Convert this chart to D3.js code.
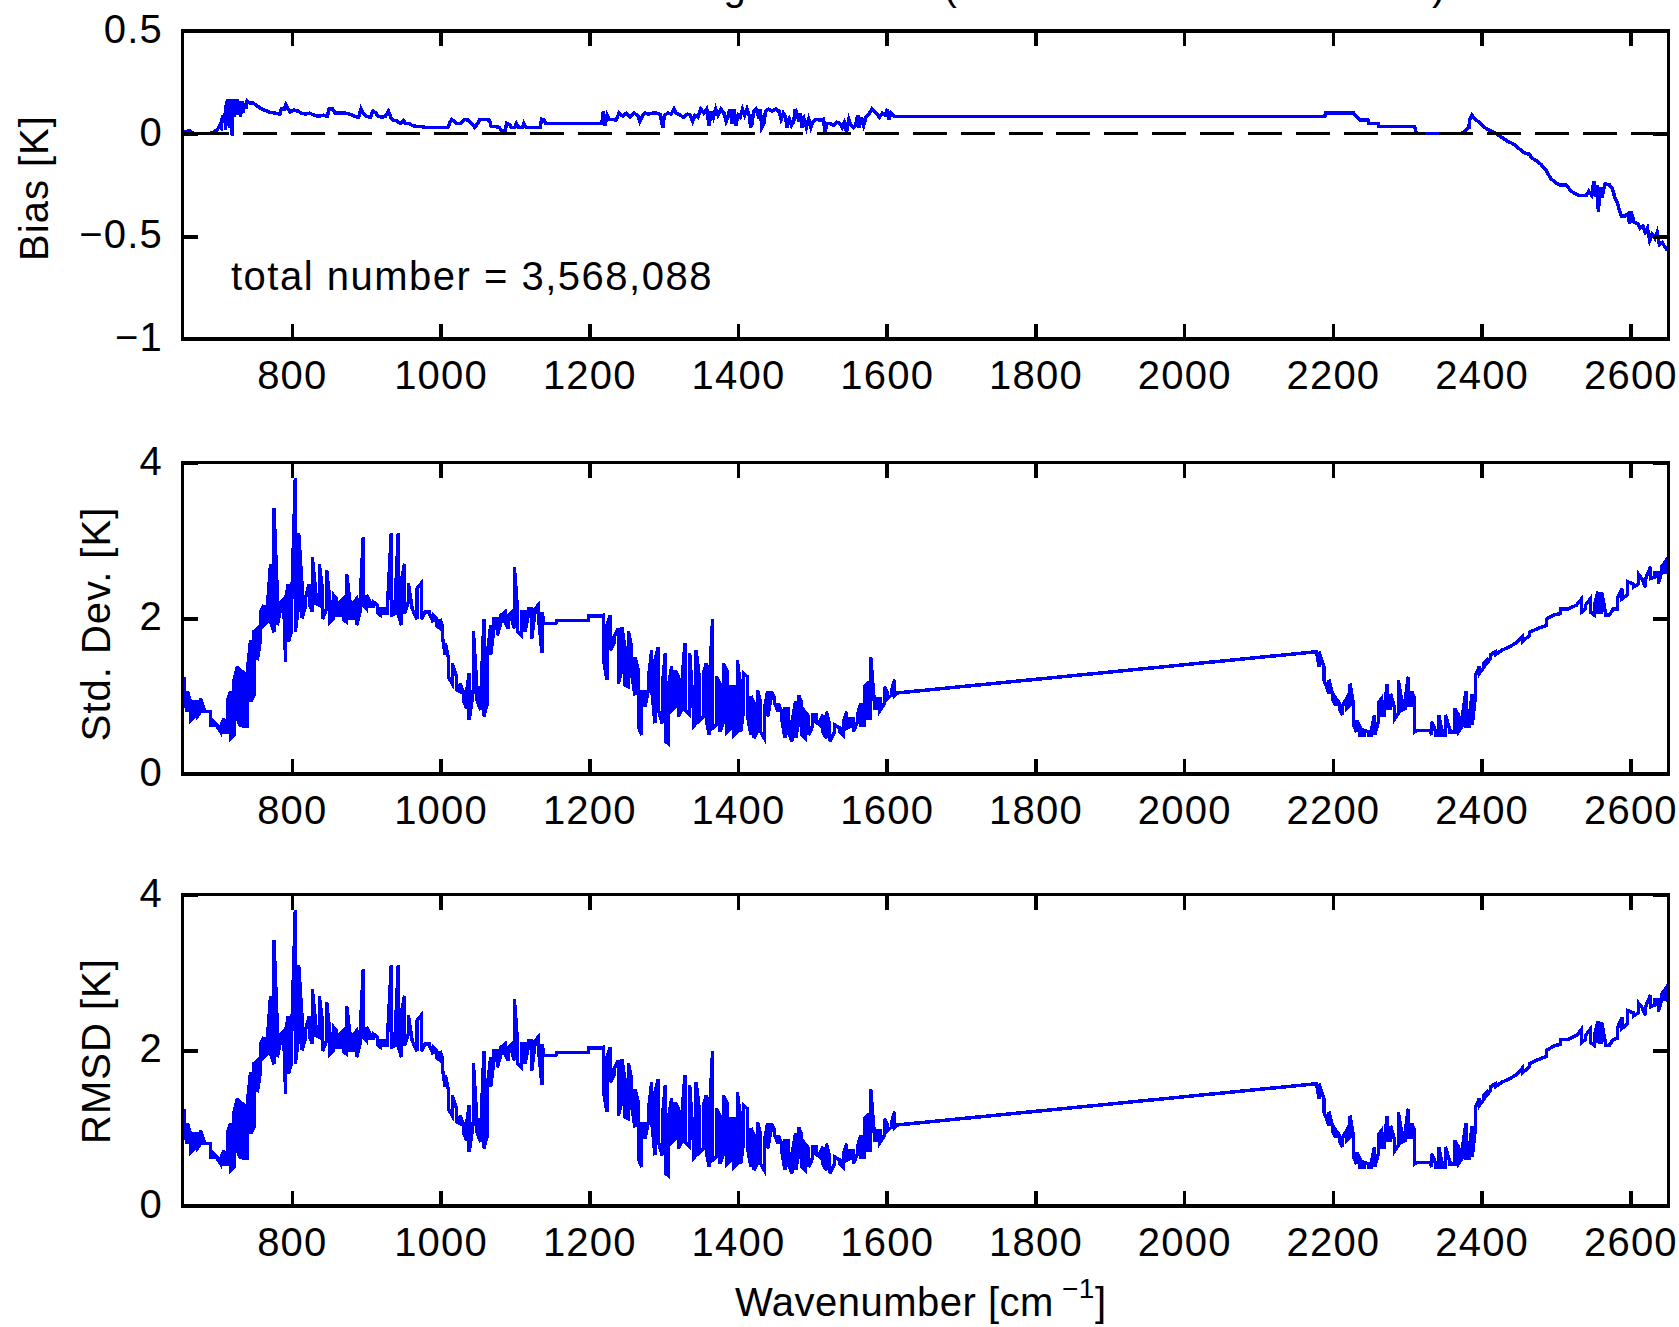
<!DOCTYPE html>
<html>
<head>
<meta charset="utf-8">
<script src="https://cdn.jsdelivr.net/npm/d3@7"></script>
<style>
html, body { margin: 0; padding: 0; background: #ffffff; }
svg { display: block; }
text { font-family: "Liberation Sans", Arial, Helvetica, sans-serif; fill: #000; }
</style>
</head>
<body>
<svg id="chart" width="1679" height="1327"></svg>
<script>
// ---------------- data ----------------
const titleText = "IASI Channel Averaged Biases (Observation \u2212 Calculated)";
const totalNumberLabel = "total number = 3,568,088";
const xLabelMain = "Wavenumber [cm";
const xLabelSup = "\u22121";
const xTicks = [800, 1000, 1200, 1400, 1600, 1800, 2000, 2200, 2400, 2600];
const xTickLabels = ["800", "1000", "1200", "1400", "1600", "1800", "2000", "2200", "2400", "2600"];
const biasTicks = [0.5, 0, -0.5, -1];
const biasTickLabels = ["0.5", "0", "\u22120.5", "\u22121"];
const sdTicks = [0, 2, 4];
const sdTickLabels = ["0", "2", "4"];
const panelTitles = ["Bias [K]", "Std. Dev. [K]", "RMSD [K]"];

// bias [wavenumber, K]
const biasSeries = [
[654,0.005],[662,0.015],[669,0.0],[690,0.0],[696,0.01],[700,0.02],[703,0.04],[705,0.03],[707,0.09],[709,0.06],
[710,0.10],[711,0.02],[712,0.16],[713,0.04],[714,0.17],[715,0.06],[716,0.16],[717,0.03],[718,0.17],[719,0.07],
[720,-0.01],[721,0.17],[722,0.08],[723,0.17],[724,0.09],[725,0.17],[726,0.09],[727,0.17],[728,0.10],[730,0.16],
[731,0.08],[733,0.16],[734,0.10],[736,0.15],[738,0.12],[740,0.16],[743,0.15],[747,0.15],[752,0.14],[757,0.125],
[763,0.115],[770,0.105],[777,0.10],[784,0.095],[786,0.12],[790,0.12],[792,0.14],[795,0.12],[798,0.105],[803,0.115],
[808,0.11],[813,0.10],[818,0.095],[824,0.10],[830,0.09],[836,0.085],[842,0.09],[848,0.085],[850,0.12],[855,0.12],
[858,0.10],[865,0.10],[872,0.10],[878,0.095],[884,0.085],[890,0.08],[893,0.12],[896,0.10],[900,0.085],[906,0.08],
[909,0.11],[913,0.10],[916,0.085],[921,0.08],[926,0.085],[930,0.11],[933,0.08],[936,0.065],[940,0.065],[943,0.055],
[947,0.05],[950,0.065],[953,0.05],[957,0.05],[962,0.04],[968,0.035],[974,0.035],[980,0.03],[988,0.03],[996,0.03],
[1004,0.03],[1010,0.03],[1012,0.05],[1015,0.07],[1018,0.06],[1022,0.05],[1027,0.05],[1032,0.07],[1038,0.065],[1042,0.05],
[1046,0.03],[1050,0.05],[1053,0.07],[1060,0.07],[1066,0.065],[1068,0.035],[1074,0.035],[1079,0.03],[1082,0.015],[1087,0.015],
[1089,0.05],[1093,0.045],[1095,0.03],[1100,0.03],[1102,0.05],[1105,0.03],[1110,0.03],[1112,0.05],[1115,0.03],[1122,0.03],
[1128,0.03],[1134,0.03],[1136,0.07],[1140,0.065],[1141,0.05],[1217,0.05],[1219,0.11],[1221,0.04],[1224,0.09],[1227,0.07],
[1232,0.07],[1236,0.065],[1240,0.10],[1245,0.085],[1250,0.10],[1255,0.08],[1260,0.10],[1265,0.09],[1268,0.06],[1272,0.09],
[1275,0.10],[1280,0.095],[1285,0.10],[1290,0.10],[1295,0.095],[1299,0.03],[1301,0.09],[1306,0.10],[1310,0.095],[1314,0.12],
[1317,0.10],[1322,0.09],[1327,0.08],[1332,0.095],[1336,0.09],[1339,0.06],[1342,0.09],[1346,0.08],[1350,0.12],[1354,0.10],
[1358,0.12],[1361,0.04],[1364,0.11],[1367,0.08],[1370,0.12],[1373,0.09],[1377,0.12],[1381,0.10],[1384,0.06],[1387,0.09],
[1389,0.12],[1392,0.05],[1395,0.12],[1397,0.04],[1400,0.09],[1403,0.08],[1406,0.12],[1409,0.09],[1412,0.12],[1415,0.09],
[1417,0.03],[1419,0.05],[1421,0.11],[1424,0.12],[1427,0.09],[1430,0.12],[1432,0.03],[1435,0.05],[1437,0.11],[1441,0.12],
[1446,0.11],[1451,0.12],[1455,0.11],[1458,0.07],[1461,0.10],[1464,0.08],[1466,0.03],[1469,0.07],[1472,0.04],[1475,0.06],
[1477,0.12],[1480,0.09],[1482,0.06],[1484,0.10],[1486,0.03],[1489,0.07],[1492,0.03],[1495,0.07],[1498,0.03],[1501,0.06],
[1505,0.07],[1510,0.065],[1515,0.07],[1517,0.01],[1520,0.05],[1524,0.05],[1528,0.04],[1533,0.055],[1537,0.05],[1540,0.03],
[1543,0.055],[1546,0.01],[1549,0.07],[1552,0.04],[1555,0.03],[1558,0.04],[1561,0.09],[1563,0.03],[1566,0.08],[1569,0.04],
[1572,0.08],[1575,0.09],[1580,0.12],[1583,0.11],[1586,0.10],[1590,0.08],[1594,0.10],[1598,0.09],[1601,0.12],[1603,0.07],
[1606,0.10],[1610,0.083],[2189,0.083],[2190,0.10],[2228,0.10],[2231,0.085],[2236,0.067],[2247,0.067],[2248,0.05],[2261,0.05],
[2262,0.034],[2310,0.034],[2312,0.0],[2373,0.0],[2378,0.015],[2383,0.03],[2384,0.07],[2387,0.09],[2390,0.075],[2395,0.06],
[2400,0.045],[2404,0.03],[2409,0.02],[2415,0.01],[2422,-0.006],[2428,-0.02],[2434,-0.035],[2440,-0.045],[2445,-0.055],[2449,-0.07],
[2453,-0.08],[2458,-0.095],[2464,-0.10],[2468,-0.12],[2473,-0.13],[2476,-0.14],[2480,-0.15],[2484,-0.17],[2487,-0.18],[2490,-0.20],
[2493,-0.22],[2497,-0.23],[2500,-0.24],[2505,-0.25],[2514,-0.25],[2520,-0.28],[2525,-0.29],[2530,-0.30],[2541,-0.30],[2544,-0.28],
[2548,-0.30],[2551,-0.23],[2553,-0.31],[2555,-0.25],[2557,-0.38],[2559,-0.26],[2562,-0.31],[2564,-0.27],[2566,-0.245],[2572,-0.25],
[2576,-0.27],[2579,-0.31],[2582,-0.33],[2585,-0.37],[2588,-0.40],[2593,-0.40],[2597,-0.39],[2599,-0.44],[2601,-0.38],[2605,-0.43],
[2610,-0.44],[2613,-0.46],[2617,-0.45],[2620,-0.48],[2623,-0.46],[2626,-0.52],[2629,-0.49],[2633,-0.51],[2636,-0.48],[2639,-0.54],
[2643,-0.53],[2646,-0.55],[2650,-0.57]
];

// standard deviation, one entry per picture column: [wavenumber, low K, high K]
const stdSeries = [
[655,0.95,1.25],[659.5,0.80,1.06],[664,0.69,0.93],[668.4,0.73,0.93],[672.9,0.74,0.93],[677.4,0.80,0.97],[681.9,0.80,0.84],[686.4,0.80,0.80],
[690.8,0.63,0.80],[695.3,0.63,0.67],[699.8,0.61,0.63],[704.3,0.54,0.61],[708.8,0.54,0.71],[713.2,0.54,0.93],[717.7,0.46,1.06],[722.2,0.50,1.20],
[726.7,0.71,1.38],[731.2,0.61,1.33],[735.7,0.61,1.30],[740.1,0.61,1.31],[744.6,0.93,1.72],[749.1,1.01,1.83],[753.6,1.46,1.87],[758.1,1.74,2.08],
[762.5,1.91,2.17],[767,1.95,2.12],[771.5,1.95,2.70],[776,1.82,3.41],[780.5,1.91,2.30],[785,2.13,2.20],[789.4,2.13,2.25],[791.7,1.44,2.25],
[795.3,1.70,2.44],[799.7,1.83,2.17],[804.7,1.83,3.80],[809.2,2.17,3.09],[813.6,2.00,2.44],[818.1,2.15,2.25],[823.5,2.19,2.44],[827.5,2.08,2.79],
[832.5,2.19,2.30],[836.9,2.17,2.70],[841.4,1.99,2.36],[846.8,2.12,2.62],[851.3,1.95,2.21],[855.8,1.99,2.30],[860.3,2.04,2.25],[864.7,2.04,2.21],
[869.2,1.99,2.25],[873.7,1.95,2.57],[878.2,2.00,2.21],[882.7,2.00,2.20],[887.1,1.91,2.25],[891.6,2.08,2.17],[896.1,2.17,3.04],[900.6,2.12,2.30],
[905.1,2.15,2.21],[909.6,2.15,2.21],[914.9,2.08,2.17],[919.4,2.04,2.12],[923.9,2.06,2.12],[928.4,2.06,2.12],[933.8,2.04,3.09],[938.7,2.06,2.15],
[943.2,2.06,3.09],[947.2,1.91,2.47],[951.7,2.06,2.70],[956.6,2.21,2.45],[962,2.12,2.12],[968.3,1.99,2.38],[974.1,1.99,2.45],[979,2.08,2.08],
[984.9,2.06,2.08],[990.2,1.95,2.04],[994.7,1.90,2.00],[999.2,1.87,1.99],[1002.8,1.74,1.89],[1006.4,1.53,1.68],[1010.4,1.25,1.50],[1015.8,1.16,1.42],
[1021.6,1.08,1.25],[1026.1,1.06,1.16],[1030.6,0.95,1.06],[1035.1,0.84,1.06],[1038.6,0.69,1.29],[1044.1,1.08,1.83],[1049,0.95,1.08],[1054,0.82,0.95],
[1058.4,0.74,1.99],[1062.9,0.91,1.53],[1067.4,1.53,1.91],[1071.9,1.87,1.99],[1076.4,1.78,1.99],[1081.3,1.95,2.04],[1086.7,1.95,2.08],[1091.2,1.87,2.04],
[1095.6,2.00,2.08],[1099.2,1.87,2.66],[1103.7,1.83,2.08],[1109.1,1.78,2.08],[1113.6,1.83,2.08],[1118.1,2.04,2.12],[1122.5,1.74,2.12],[1127,2.08,2.12],
[1131.5,2.04,2.17],[1136.4,1.55,2.08],[1139.1,1.93,1.93],[1154.8,1.93,1.93],[1156.2,1.97,1.97],[1198.7,1.97,1.97],[1199.6,2.03,2.03],[1217.6,2.03,2.03],
[1219.3,1.46,2.04],[1223.8,1.21,1.91],[1228.3,1.59,2.04],[1233.2,1.68,1.76],[1239.1,1.16,1.87],[1243.6,1.33,1.89],[1248,1.14,1.63],[1252.5,1.12,1.83],
[1257,1.29,1.63],[1261.5,1.01,1.50],[1266,0.61,1.33],[1270.4,0.50,1.06],[1274.9,0.86,1.06],[1279.4,1.08,1.21],[1283.9,1.10,1.59],[1288.4,0.65,1.46],
[1292.9,0.82,1.63],[1298.2,0.65,1.12],[1302.3,0.42,1.55],[1306.3,0.39,1.12],[1310.8,0.82,1.38],[1315.3,0.86,1.33],[1319.7,0.74,1.25],[1324.2,0.82,1.12],
[1328.7,0.82,1.68],[1335,0.76,1.55],[1339.9,0.61,0.84],[1343.5,0.65,1.59],[1348.4,0.69,1.21],[1353.4,0.74,1.29],[1357.4,0.69,1.42],[1361.4,0.50,1.16],
[1365.9,0.59,1.99],[1370.8,0.63,1.25],[1375.8,0.54,1.16],[1380.2,0.67,1.42],[1385.2,0.54,1.33],[1390.1,0.59,1.12],[1394.6,0.50,1.12],[1399.1,0.54,1.46],
[1403.6,0.54,1.12],[1407.6,0.84,1.29],[1412.5,0.76,1.25],[1417.4,0.50,1.00],[1421.5,0.46,0.91],[1426,0.54,1.08],[1430.5,0.54,0.91],[1435.4,0.46,0.84],
[1439.9,0.74,1.06],[1444.4,0.97,1.06],[1449.3,0.91,0.97],[1454.2,0.80,0.91],[1458.7,0.71,0.80],[1463.2,0.46,0.84],[1467.7,0.54,0.84],[1472.6,0.42,0.67],
[1477.5,0.46,0.93],[1481.6,0.67,1.01],[1485.6,0.50,0.91],[1490.1,0.46,0.80],[1495,0.50,0.74],[1500,0.61,0.76],[1504.9,0.67,0.76],[1509.8,0.63,0.67],
[1514.3,0.54,0.76],[1518.8,0.46,0.80],[1523.3,0.42,0.63],[1530,0.54,0.63],[1537.2,0.54,0.59],[1541.6,0.50,0.67],[1546.1,0.59,0.80],[1550.6,0.61,0.71],
[1555.1,0.54,0.71],[1560.5,0.67,0.76],[1565.4,0.63,0.91],[1569.9,0.63,1.12],[1574.4,0.71,1.16],[1578.4,0.71,1.50],[1583.3,0.84,0.93],[1587,0.84,0.97],
[1591,0.82,0.97],[1597.2,0.91,1.12],[1601.3,0.97,1.03],[1606.2,1.01,1.06],[1610.7,1.01,1.21],[1613.4,1.04,1.04],[2178,1.57,1.57],[2181.2,1.38,1.57],
[2188,1.21,1.38],[2194.7,1.03,1.21],[2199.2,0.97,1.03],[2204.1,0.88,0.97],[2208.6,0.84,0.91],[2213.1,0.76,0.88],[2218.5,0.84,0.97],[2222.9,0.88,1.16],
[2227.4,0.63,0.91],[2231.9,0.54,0.69],[2236.4,0.50,0.61],[2241.8,0.50,0.56],[2247.6,0.50,0.54],[2251.2,0.50,0.54],[2256.1,0.50,0.76],[2261,0.67,0.91],
[2265.5,0.76,0.97],[2269.1,0.76,0.84],[2273.1,0.84,1.16],[2277.6,0.84,1.03],[2283,0.71,0.84],[2287.9,0.78,1.21],[2292.4,0.82,0.95],[2296.9,0.84,0.93],
[2301.4,0.88,1.25],[2305.9,0.88,1.06],[2309.9,0.54,0.97],[2312.6,0.56,0.56],[2330.5,0.56,0.56],[2332.7,0.50,0.67],[2337.7,0.50,0.56],[2342.1,0.50,0.76],
[2346.6,0.50,0.56],[2351.1,0.50,0.76],[2357.4,0.54,0.56],[2364.1,0.54,0.84],[2368.6,0.54,0.76],[2373.5,0.61,0.71],[2378.9,0.61,1.06],[2382.9,0.61,0.71],
[2387.4,0.63,1.03],[2391.9,1.03,1.27],[2396.8,1.29,1.38],[2402.2,1.36,1.42],[2406.7,1.42,1.46],[2411.6,1.48,1.53],[2418.3,1.53,1.57],[2427.3,1.59,1.59],
[2436.7,1.63,1.63],[2445.7,1.68,1.68],[2454.7,1.70,1.76],[2464.5,1.78,1.82],[2475.7,1.87,1.87],[2487.4,1.91,1.99],[2496.3,2.04,2.04],[2506.2,2.06,2.12],
[2516.5,2.12,2.12],[2527.7,2.17,2.17],[2534.4,2.08,2.25],[2539.8,2.12,2.17],[2546.1,2.08,2.25],[2551.9,2.04,2.17],[2556.4,2.08,2.34],[2561.3,2.08,2.34],
[2566.3,2.04,2.08],[2571.6,2.04,2.04],[2577,2.12,2.12],[2582.4,2.12,2.25],[2588.7,2.25,2.38],[2596.3,2.30,2.47],[2603.9,2.40,2.44],[2610.6,2.44,2.57],
[2615.1,2.51,2.51],[2620.5,2.40,2.51],[2627.2,2.51,2.66],[2633,2.53,2.59],[2637.5,2.44,2.59],[2642,2.59,2.66],[2646.5,2.57,2.72],[2650,2.72,2.72]
];

// RMSD reads the same as the std. dev. below 2395 cm-1; its own columns above that
const rmsdSplit = 2395;
const rmsdTail = [
[2396.8,1.29,1.38],[2402.2,1.36,1.42],[2406.7,1.42,1.46],[2411.6,1.48,1.53],[2418.3,1.53,1.57],[2427.3,1.59,1.59],[2436.7,1.63,1.63],[2445.7,1.68,1.68],
[2454.7,1.71,1.77],[2464.5,1.79,1.83],[2475.7,1.88,1.88],[2487.4,1.92,2.00],[2496.3,2.05,2.05],[2506.2,2.08,2.14],[2516.5,2.14,2.14],[2527.7,2.19,2.19],
[2534.4,2.10,2.27],[2539.8,2.14,2.19],[2546.1,2.10,2.27],[2551.9,2.06,2.19],[2556.4,2.11,2.37],[2561.3,2.10,2.36],[2566.3,2.06,2.10],[2571.6,2.06,2.06],
[2577,2.14,2.14],[2582.4,2.15,2.28],[2588.7,2.28,2.42],[2596.3,2.34,2.51],[2603.9,2.44,2.48],[2610.6,2.48,2.61],[2615.1,2.56,2.56],[2620.5,2.45,2.56],
[2627.2,2.56,2.71],[2633,2.58,2.65],[2637.5,2.49,2.65],[2642,2.65,2.72],[2646.5,2.63,2.78],[2650,2.78,2.78]
];

// ---------------- layout ----------------
const W = 1679, H = 1327;
const plotLeft = 182.5, plotRight = 1668.3;
const FS = 40;
const LW = 3.5;
const svg = d3.select("#chart");

const x = d3.scaleLinear().domain([653, 2651]).range([plotLeft, plotRight]);

function expandColumns(cols) {
  const pts = [];
  cols.forEach((c, i) => {
    const w = c[0], lo = c[1], hi = c[2];
    if (i % 2 === 0) { pts.push([w, hi]); if (lo !== hi) pts.push([w, lo]); }
    else { pts.push([w, lo]); if (lo !== hi) pts.push([w, hi]); }
  });
  return pts;
}

const rmsdCols = stdSeries.filter(c => c[0] < rmsdSplit).concat(rmsdTail);

const panels = [
  { top: 31, bottom: 339, domain: [-1, 0.5], ticks: biasTicks, labels: biasTickLabels,
    title: panelTitles[0], titleX: 48, titleY: 188, points: biasSeries },
  { top: 462.5, bottom: 774, domain: [0, 4], ticks: sdTicks, labels: sdTickLabels,
    title: panelTitles[1], titleX: 110, titleY: 624, points: expandColumns(stdSeries) },
  { top: 894.5, bottom: 1206, domain: [0, 4], ticks: sdTicks, labels: sdTickLabels,
    title: panelTitles[2], titleX: 110, titleY: 1051, points: expandColumns(rmsdCols) }
];

// title: only the bottom of it is inside the picture, as in the reference
svg.append("text")
  .attr("x", 357).attr("y", 0)
  .attr("text-anchor", "start")
  .attr("font-size", FS)
  .attr("letter-spacing", 1)
  .text(titleText);

function styleAxis(g) {
  g.attr("font-family", '"Liberation Sans", Arial, Helvetica, sans-serif')
   .attr("font-size", FS);
  g.select(".domain").remove();
  g.selectAll(".tick line").attr("stroke", "#000").attr("stroke-width", LW)
   .attr("shape-rendering", "crispEdges");
  g.selectAll(".tick text").attr("fill", "#000").attr("letter-spacing", 1.2);
}

panels.forEach((p, idx) => {
  const y = d3.scaleLinear().domain(p.domain).range([p.bottom, p.top]);
  const clipId = "clip" + idx;
  svg.append("clipPath").attr("id", clipId)
    .append("rect")
    .attr("x", plotLeft).attr("y", p.top)
    .attr("width", plotRight - plotLeft).attr("height", p.bottom - p.top);

  const line = d3.line().x(d => x(d[0])).y(d => y(d[1]));
  svg.append("path")
    .datum(p.points)
    .attr("clip-path", "url(#" + clipId + ")")
    .attr("d", line)
    .attr("fill", "none")
    .attr("stroke", "#0000ff")
    .attr("stroke-width", LW)
    .attr("shape-rendering", "crispEdges");

  if (idx === 0) {
    svg.append("line")
      .attr("x1", x(653)).attr("x2", x(2651))
      .attr("y1", y(0)).attr("y2", y(0))
      .attr("stroke", "#000")
      .attr("stroke-width", LW)
      .attr("stroke-dasharray", "34 13.86")
      .attr("stroke-dashoffset", 35.46)
      .attr("shape-rendering", "crispEdges");
    svg.append("text")
      .attr("x", 231).attr("y", 290)
      .attr("font-size", FS)
      .attr("letter-spacing", 1.5)
      .text(totalNumberLabel);
  }

  // frame
  svg.append("rect")
    .attr("x", plotLeft).attr("y", p.top)
    .attr("width", plotRight - plotLeft).attr("height", p.bottom - p.top)
    .attr("fill", "none").attr("stroke", "#000").attr("stroke-width", LW)
    .attr("shape-rendering", "crispEdges");

  // axes (inward ticks)
  svg.append("g").attr("transform", `translate(0,${p.bottom})`)
    .call(d3.axisBottom(x).tickValues(xTicks).tickSize(-15).tickSizeOuter(0)
      .tickPadding(21.6).tickFormat((d, i) => xTickLabels[i]))
    .call(styleAxis);
  svg.append("g").attr("transform", `translate(0,${p.top})`)
    .call(d3.axisTop(x).tickValues(xTicks).tickSize(-15).tickSizeOuter(0).tickFormat(""))
    .call(styleAxis);
  const gl = svg.append("g").attr("transform", `translate(${plotLeft},0)`)
    .call(d3.axisLeft(y).tickValues(p.ticks).tickSize(-15).tickSizeOuter(0)
      .tickPadding(19.5).tickFormat((d, i) => p.labels[i]))
    .call(styleAxis);
  gl.selectAll(".tick text").attr("dy", "0.29em");
  svg.append("g").attr("transform", `translate(${plotRight},0)`)
    .call(d3.axisRight(y).tickValues(p.ticks).tickSize(-15).tickSizeOuter(0).tickFormat(""))
    .call(styleAxis);

  // y title
  svg.append("text")
    .attr("transform", `translate(${p.titleX},${p.titleY}) rotate(-90)`)
    .attr("text-anchor", "middle")
    .attr("font-size", FS)
    .attr("letter-spacing", 1)
    .text(p.title);
});

// x axis title
const xt = svg.append("text")
  .attr("x", 735).attr("y", 1316)
  .attr("font-size", FS)
  .attr("letter-spacing", 0.5);
xt.append("tspan").text(xLabelMain);
xt.append("tspan").attr("dx", 8).attr("dy", -18).attr("font-size", 28).text(xLabelSup);
xt.append("tspan").attr("dy", 18).attr("font-size", FS).text("]");
</script>
</body>
</html>
